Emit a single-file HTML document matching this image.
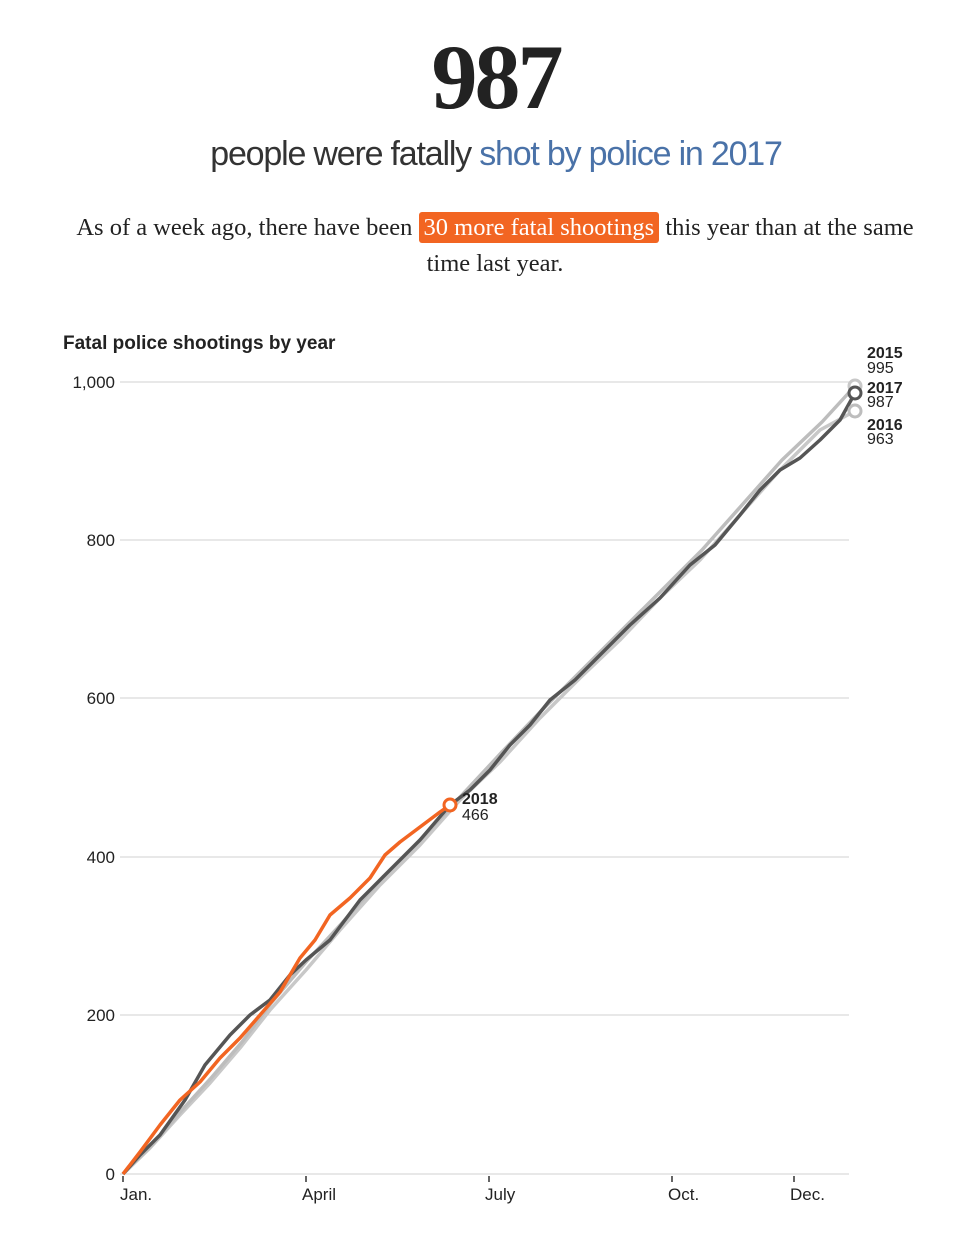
<!DOCTYPE html>
<html><head><meta charset="utf-8"><style>
body{margin:0;width:980px;height:1243px;background:#fff;overflow:hidden;position:relative;font-family:"Liberation Sans",sans-serif}
.big{position:absolute;top:22px;left:0;width:992px;text-align:center;font-family:"Liberation Serif",serif;font-weight:bold;font-size:92px;color:#222;letter-spacing:-3px;line-height:110px}
.sub{position:absolute;top:132px;left:0;width:992px;text-align:center;font-size:34px;color:#333;letter-spacing:-1.2px;line-height:44px}
.sub span{color:#4a72a8}
.p{position:absolute;top:210px;left:30px;width:930px;text-align:center;font-family:"Liberation Serif",serif;font-size:24.5px;color:#222;line-height:36px}
.hl{background:#f26522;color:#fff;padding:2px 5px;border-radius:3px}
</style></head><body>
<div class="big">987</div>
<div class="sub">people were fatally <span>shot by police in 2017</span></div>
<div class="p">As of a week ago, there have been <span class="hl">30 more fatal shootings</span> this year than at the same<br>time last year.</div>
<svg width="980" height="1243" style="position:absolute;left:0;top:0" font-family="Liberation Sans, sans-serif">
<text x="63" y="349" font-size="19" font-weight="bold" fill="#222">Fatal police shootings by year</text>
<g stroke="#d0d0d0" stroke-width="1">
<line x1="120" y1="382" x2="849" y2="382"/><line x1="120" y1="540" x2="849" y2="540"/><line x1="120" y1="698" x2="849" y2="698"/><line x1="120" y1="857" x2="849" y2="857"/><line x1="120" y1="1015" x2="849" y2="1015"/><line x1="120" y1="1174" x2="849" y2="1174"/>
</g>
<g font-size="17" fill="#222" text-anchor="end">
<text x="115" y="388">1,000</text><text x="115" y="546">800</text><text x="115" y="704">600</text><text x="115" y="863">400</text><text x="115" y="1021">200</text><text x="115" y="1180">0</text>
</g>
<g stroke="#333" stroke-width="1.5"><line x1="123" y1="1176" x2="123" y2="1182"/><line x1="306" y1="1176" x2="306" y2="1182"/><line x1="489" y1="1176" x2="489" y2="1182"/><line x1="672" y1="1176" x2="672" y2="1182"/><line x1="794" y1="1176" x2="794" y2="1182"/></g>
<g font-size="17" fill="#222"><text x="120" y="1200">Jan.</text><text x="302" y="1200">April</text><text x="485" y="1200">July</text><text x="668" y="1200">Oct.</text><text x="790" y="1200">Dec.</text></g>
<g fill="none" stroke-width="3.5" stroke-linejoin="round">
<polyline stroke="#c8c8c8" points="123,1174 150,1148 180,1115 210,1083 240,1048 270,1010 306,970 340,930 380,885 420,845 460,800 500,762 540,718 580,678 620,640 660,598 700,560 740,515 780,470 820,430 855,411"/>
<polyline stroke="#bdbdbd" points="123,1174 152,1145 182,1110 212,1077 242,1042 272,1002 306,962 342,923 382,878 422,838 462,795 502,752 542,710 582,670 622,630 662,590 702,550 742,505 782,460 822,422 855,386"/>
<polyline stroke="#555" points="123,1174 140,1155 160,1135 185,1100 205,1065 230,1035 250,1015 270,1000 290,975 306,960 330,940 360,900 390,870 420,840 450,805 470,790 490,770 510,745 530,725 550,700 575,680 600,655 630,625 660,598 690,565 715,545 740,515 760,490 780,470 800,458 820,440 840,420 855,393"/>
<polyline stroke="#f26522" points="123,1174 140,1152 160,1125 180,1100 200,1082 220,1058 240,1038 260,1015 280,992 300,958 315,940 330,915 350,898 370,878 385,855 400,842 420,827 440,812 450,805"/>
</g>
<g fill="#fff" stroke-width="3"><circle cx="855" cy="386" r="6" stroke="#c8c8c8"/><circle cx="855" cy="411" r="6" stroke="#bdbdbd"/><circle cx="855" cy="393" r="6" stroke="#555"/><circle cx="450" cy="805" r="6" stroke="#f26522"/></g>
<g font-size="16" fill="#222">
<text x="867" y="358" font-weight="bold">2015</text><text x="867" y="373">995</text>
<text x="867" y="393" font-weight="bold">2017</text><text x="867" y="407">987</text>
<text x="867" y="430" font-weight="bold">2016</text><text x="867" y="444">963</text>
<text x="462" y="804" font-weight="bold">2018</text><text x="462" y="820">466</text>
</g>
</svg>
</body></html>
